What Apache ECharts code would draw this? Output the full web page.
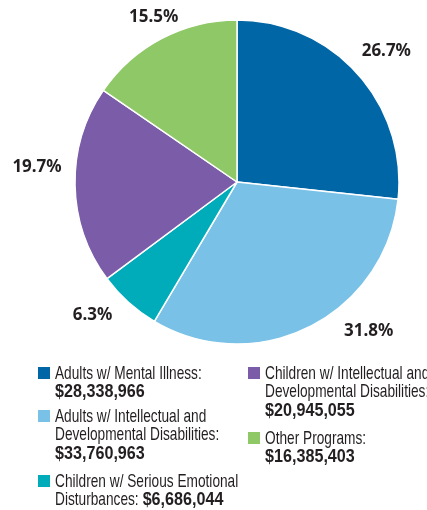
<!DOCTYPE html>
<html>
<head>
<meta charset="utf-8">
<script src="https://cdn.jsdelivr.net/npm/echarts@6/dist/echarts.min.js"></script>
<style>
html,body{margin:0;padding:0;background:#fff;}
#main{width:427px;height:510px;}
</style>
</head>
<body>
<div id="main"></div>
<script>
// data
var categories = [
    "Adults w/ Mental Illness:",
    "Adults w/ Intellectual and\nDevelopmental Disabilities:",
    "Children w/ Serious Emotional\nDisturbances:",
    "Children w/ Intellectual and\nDevelopmental Disabilities:",
    "Other Programs:"
];
var amounts = [28338966, 33760963, 6686044, 20945055, 16385403];
var colors = ["#0066a6", "#7ac1e7", "#00abba", "#7a5ca8", "#8fc866"];

// label nudges (px) from the slice mid-angle
var labelOffsets = [[2, 1], [43, -28], [-12, -14], [-2, -19], [9, 10]];
// legend layout: square top-left, value on same line or not
var legendPos = [[38, 367], [38, 410], [38, 475], [248, 367], [248, 432]];
var valueInline = [false, false, true, false, false];

var textColor = "#231f20";
var nameFont = '19px "Liberation Sans"';
var valueFont = 'bold 19px "Liberation Sans"';
var nameScale = 0.72;
var valueScale = 0.85;
var lineGap = 18.7;

var chart = echarts.init(document.getElementById("main"));

var measureCtx = document.createElement("canvas").getContext("2d");
function textWidth(str, font){
    measureCtx.font = font;
    return measureCtx.measureText(str).width;
}
function money(v){
    return "$" + v.toLocaleString("en-US");
}

//图例
var legendGraphics = [];
for(var i = 0; i < categories.length; i++){
    var pos = legendPos[i];
    var tx = pos[0] + 17;
    var textTop = pos[1] - 3;   // text box top, baseline ends up ~13px below square top
    legendGraphics.push({
        type: "rect",
        shape: { x: pos[0], y: pos[1], width: 12, height: 12 },
        style: { fill: colors[i] },
        silent: true
    });
    var lines = categories[i].split("\n");
    for(var j = 0; j < lines.length; j++){
        legendGraphics.push({
            type: "text",
            x: tx, y: textTop + j * lineGap,
            scaleX: nameScale,
            style: { text: lines[j], font: nameFont, fill: textColor, verticalAlign: "top" },
            silent: true
        });
    }
    var vx, vy;
    if(valueInline[i]){
        vx = tx + textWidth(lines[lines.length - 1], nameFont) * nameScale + 4;
        vy = textTop + (lines.length - 1) * lineGap;
    } else {
        vx = tx;
        vy = textTop + lines.length * lineGap;
    }
    legendGraphics.push({
        type: "text",
        x: vx, y: vy,
        scaleX: valueScale,
        style: { text: money(amounts[i]), font: valueFont, fill: textColor, verticalAlign: "top" },
        silent: true
    });
}

var sliceData = [];
var labelData = [];
for(var k = 0; k < amounts.length; k++){
    sliceData.push({ value: amounts[k], name: categories[k], itemStyle: { color: colors[k] } });
    labelData.push({ value: amounts[k], name: categories[k], label: { offset: labelOffsets[k] } });
}

var option = {
    animation: false,
    graphic: legendGraphics,
    series: [
        {
            type: "pie",
            center: [237, 182],
            radius: 162,
            startAngle: 90,
            clockwise: true,
            silent: true,
            itemStyle: { borderColor: "#fff", borderWidth: 1.5 },
            label: { show: false },
            labelLine: { show: false },
            data: sliceData
        },
        {
            // invisible ring only to place the percent labels
            type: "pie",
            center: [237, 182],
            radius: [180, 210],
            startAngle: 90,
            clockwise: true,
            silent: true,
            percentPrecision: 1,
            itemStyle: { color: "rgba(0,0,0,0)" },
            label: {
                show: true,
                position: "inside",
                formatter: "{d}%",
                color: textColor,
                fontFamily: "Noto Sans",
                fontWeight: "bold",
                fontSize: 17
            },
            labelLine: { show: false },
            data: labelData
        }
    ]
};
chart.setOption(option);
</script>
</body>
</html>
